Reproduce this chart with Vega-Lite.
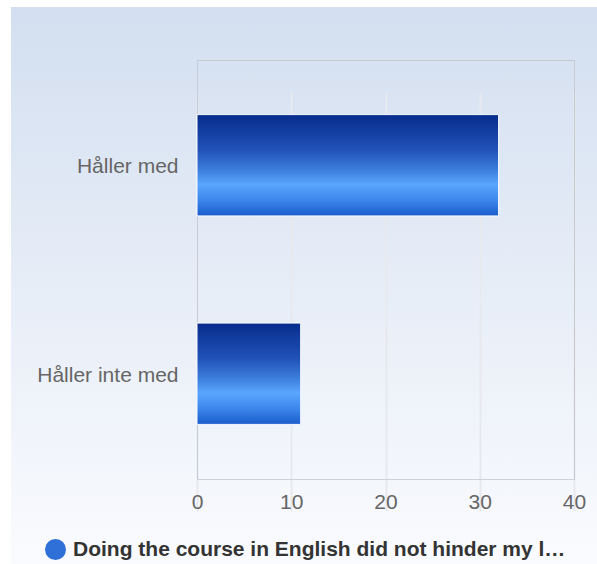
{
  "$schema": "https://vega.github.io/schema/vega-lite/v6.json",
  "width": 586,
  "height": 557,
  "autosize": {"type": "none"},
  "padding": {"left": 11, "top": 7, "right": 0, "bottom": 0},
  "background": "white",
  "view": {
    "stroke": null,
    "fill": {"gradient": "linear", "x1": 0, "y1": 0, "x2": 0, "y2": 1,
      "stops": [{"offset": 0, "color": "#d3dff0"}, {"offset": 1, "color": "#fafbfe"}]}
  },
  "data": {"values": [
    {"answer": "Håller med", "count": 32, "series": "Doing the course in English did not hinder my learning"},
    {"answer": "Håller inte med", "count": 11, "series": "Doing the course in English did not hinder my learning"}
  ]},
  "layer": [
    {
      "mark": {"type": "bar"},
      "encoding": {
        "y": {"field": "answer", "type": "nominal", "sort": null,
          "scale": {"range": [53, 472], "paddingInner": 0.514, "paddingOuter": 0.262},
          "axis": {"orient": "left", "offset": -186, "title": null, "ticks": false, "labelPadding": 19,
            "labelOffset": 2,
            "labelFont": "Liberation Sans", "labelFontSize": 21, "labelColor": "#666666",
            "domainColor": "#c5cddd", "labelLimit": 300}},
        "x": {"field": "count", "type": "quantitative",
          "scale": {"domain": [0, 40], "range": [186, 563], "nice": false},
          "axis": {"orient": "bottom", "offset": -85, "title": null, "values": [0, 10, 20, 30, 40],
            "ticks": false, "grid": true, "gridColor": "#e7e9ee", "gridWidth": 2, "domainColor": "#cdd2da",
            "labelFont": "Liberation Sans", "labelFontSize": 21, "labelColor": "#666666",
            "labelPadding": 12, "labelFlush": false}},
        "color": {"field": "series", "type": "nominal", "scale": {"range": ["#2f6fd8"]},
          "legend": {"orient": "none", "legendX": 34, "legendY": 532, "title": null, "padding": 0,
            "symbolType": "circle", "symbolSize": 441, "symbolStrokeWidth": 0, "labelOffset": 7,
            "labelFont": "Liberation Sans", "labelFontSize": 21, "labelFontWeight": "bold",
            "labelColor": "#333333", "labelLimit": 497}}
      }
    },
    {
      "mark": {"type": "bar", "stroke": "white", "strokeWidth": 1,
        "fill": {"gradient": "linear", "x1": 0, "y1": 0, "x2": 0, "y2": 1,
          "stops": [
            {"offset": 0, "color": "#072c8c"},
            {"offset": 0.35, "color": "#2152b8"},
            {"offset": 0.55, "color": "#3d7fdc"},
            {"offset": 0.69, "color": "#5aa6fe"},
            {"offset": 0.85, "color": "#3b86ea"},
            {"offset": 1, "color": "#1a5ccc"}
          ]}},
      "encoding": {
        "y": {"field": "answer", "type": "nominal", "sort": null,
          "axis": {"orient": "right", "offset": -23, "title": null, "labels": false, "ticks": false,
            "domainColor": "#c8cacf"}},
        "x": {"field": "count", "type": "quantitative",
          "axis": {"orient": "top", "offset": -53, "title": null, "labels": false, "ticks": false,
            "grid": false, "domainColor": "#c4c8d0"}}
      }
    }
  ],
  "resolve": {"axis": {"x": "independent", "y": "independent"}}
}
